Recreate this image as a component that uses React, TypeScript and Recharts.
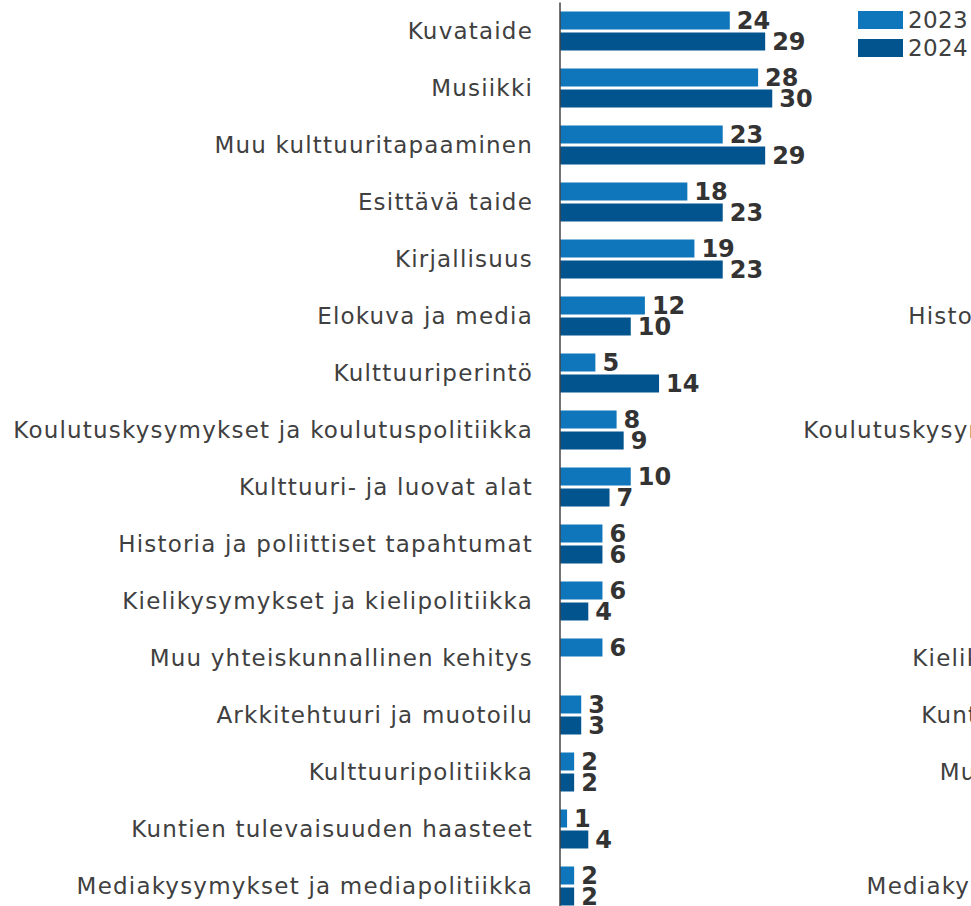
import React from 'react';
import { BarChart, Bar, XAxis, YAxis, LabelList, Legend } from 'recharts';

const categories = [
  'Kuvataide',
  'Musiikki',
  'Muu kulttuuritapaaminen',
  'Esittävä taide',
  'Kirjallisuus',
  'Elokuva ja media',
  'Kulttuuriperintö',
  'Koulutuskysymykset ja koulutuspolitiikka',
  'Kulttuuri- ja luovat alat',
  'Historia ja poliittiset tapahtumat',
  'Kielikysymykset ja kielipolitiikka',
  'Muu yhteiskunnallinen kehitys',
  'Arkkitehtuuri ja muotoilu',
  'Kulttuuripolitiikka',
  'Kuntien tulevaisuuden haasteet',
  'Mediakysymykset ja mediapolitiikka',
];
const values2023 = [24, 28, 23, 18, 19, 12, 5, 8, 10, 6, 6, 6, 3, 2, 1, 2];
const values2024: (number | null)[] = [29, 30, 29, 23, 23, 10, 14, 9, 7, 6, 4, null, 3, 2, 4, 2];

// Second (partly visible) chart on the right: its category order
const categoriesRight = [
  'Musiikki',
  'Kuvataide',
  'Muu kulttuuritapaaminen',
  'Kirjallisuus',
  'Esittävä taide',
  'Historia ja poliittiset tapahtumat',
  'Kulttuuriperintö',
  'Koulutuskysymykset ja koulutuspolitiikka',
  'Elokuva ja media',
  'Kulttuuri- ja luovat alat',
  'Arkkitehtuuri ja muotoilu',
  'Kielikysymykset ja kielipolitiikka',
  'Kuntien tulevaisuuden haasteet',
  'Muu yhteiskunnallinen kehitys',
  'Kulttuuripolitiikka',
  'Mediakysymykset ja mediapolitiikka',
];
const valuesRight2023 = [28, 24, 23, 19, 18, 6, 5, 8, 12, 10, 3, 6, 1, 6, 2, 2];
const valuesRight2024 = [30, 29, 29, 23, 23, 6, 14, 9, 10, 7, 3, 4, 4, 0, 2, 2];

const seriesNames = ['2023', '2024'];
const colors = ['#0f76bc', '#02548f'];

const data = categories.map((c, i) => ({ name: c, v2023: values2023[i], v2024: values2024[i] }));
const dataRight = categoriesRight.map((c, i) => ({ name: c, v2023: valuesRight2023[i], v2024: valuesRight2024[i] }));

const FONT = '"DejaVu Sans", sans-serif';
const TEXT = '#404040';

const LegendContent = () => (
  <div style={{ fontFamily: FONT }}>
    {seriesNames.map((s, i) => (
      <div key={s} style={{ display: 'flex', alignItems: 'center', height: 18, marginBottom: 10 }}>
        <div style={{ width: 45, height: 18, background: colors[i], marginRight: 5 }} />
        <span style={{ fontSize: 23, color: TEXT, lineHeight: '18px', letterSpacing: 0.4 }}>{s}</span>
      </div>
    ))}
  </div>
);

function Chart({ rows, width, showLegend }: { rows: any[]; width: number; showLegend: boolean }) {
  return (
    <BarChart
      width={width}
      height={920}
      data={rows}
      layout="vertical"
      margin={{ top: 2.5, right: width - 560 - 283, bottom: 5.5, left: 0 }}
      barSize={18}
      barGap={3}
    >
      <XAxis type="number" domain={[0, 40]} hide />
      <YAxis
        type="category"
        dataKey="name"
        width={560}
        tickLine={false}
        tickSize={0}
        tickMargin={27}
        axisLine={{ stroke: '#444', strokeWidth: 1.5 }}
        tick={{ fontSize: 23, fill: TEXT, fontFamily: FONT, letterSpacing: 1.2 }}
        interval={0}
      />
      {showLegend && (
        <Legend
          layout="vertical"
          align="center"
          verticalAlign="middle"
          content={<LegendContent />}
          wrapperStyle={{ top: 11, left: 858, width: 113 }}
        />
      )}
      <Bar dataKey="v2023" name="2023" fill={colors[0]} isAnimationActive={false}>
        <LabelList dataKey="v2023" position="right" offset={7} fill="#333" fontSize={24} fontWeight="bold" fontFamily={FONT} />
      </Bar>
      <Bar dataKey="v2024" name="2024" fill={colors[1]} isAnimationActive={false}>
        <LabelList dataKey="v2024" position="right" offset={7} fill="#333" fontSize={24} fontWeight="bold" fontFamily={FONT} />
      </Bar>
    </BarChart>
  );
}

export default function App() {
  return (
    <div style={{ position: 'fixed', left: 0, top: 0, width: 971, height: 906, overflow: 'hidden', background: '#fff' }}>
      <div style={{ position: 'absolute', left: 0, top: 0 }}>
        <Chart rows={data} width={971} showLegend={true} />
      </div>
      <div style={{ position: 'absolute', left: 790, top: 0 }}>
        <Chart rows={dataRight} width={900} showLegend={false} />
      </div>
    </div>
  );
}
